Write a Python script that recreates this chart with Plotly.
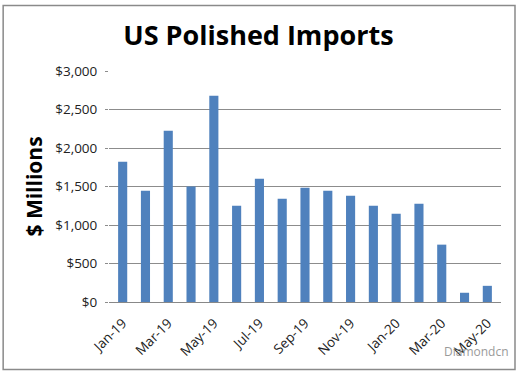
import plotly.graph_objects as go

months = ["Jan-19", "Feb-19", "Mar-19", "Apr-19", "May-19", "Jun-19", "Jul-19", "Aug-19",
          "Sep-19", "Oct-19", "Nov-19", "Dec-19", "Jan-20", "Feb-20", "Mar-20", "Apr-20", "May-20"]
imports = [1820, 1445, 2225, 1500, 2680, 1250, 1600, 1340,
           1485, 1445, 1380, 1250, 1145, 1275, 745, 120, 210]
tick_labels = months[::2]
y_ticks = [0, 500, 1000, 1500, 2000, 2500, 3000]
y_tick_text = ["$0", "$500", "$1,000", "$1,500", "$2,000", "$2,500", "$3,000"]

fig = go.Figure()
fig.add_trace(go.Bar(x=months, y=imports, marker=dict(color="#4F81BD", line=dict(width=0)),
                     width=0.4))

font_main = "Open Sans, Liberation Sans, sans-serif"
fig.update_layout(
    width=520, height=375,
    margin=dict(l=109, r=19, t=71, b=73),
    paper_bgcolor="white", plot_bgcolor="white",
    showlegend=False,
    title=dict(text="<b>US Polished Imports</b>", x=0.497, xanchor="center",
               y=0.905, yanchor="middle",
               font=dict(family=font_main, size=27, color="black")),
    font=dict(family=font_main, color="#222"),
    xaxis=dict(type="category", tickmode="array", tickvals=tick_labels, ticktext=tick_labels,
               tickangle=-45, tickfont=dict(size=13.5, color="#222"), showgrid=False,
               showline=True, linecolor="#888", linewidth=1, ticks="", range=[-0.6, 16.6],
               automargin=False, ticklabelstandoff=7),
    yaxis=dict(range=[0, 3000], tickvals=y_ticks, ticktext=y_tick_text,
               tickfont=dict(size=13.5, color="#222"), showgrid=True, gridcolor="#8c8c8c",
               gridwidth=1, zeroline=False, showline=False, ticks="outside", ticklen=3,
               tickcolor="#8c8c8c", automargin=False, ticklabelstandoff=5,
               title=dict(text="<b>$ Millions</b>", font=dict(size=21, color="black"),
                          standoff=6)),
    shapes=[dict(type="rect", xref="paper", yref="paper",
                 x0=-0.270, x1=1.0357, y0=-0.292, y1=1.284,
                 line=dict(color="#8a8a8a", width=1.5), fillcolor="rgba(0,0,0,0)")],
    annotations=[dict(text="Diamondcn", xref="paper", yref="paper", x=0.85, y=-0.216,
                      xanchor="left", yanchor="middle", showarrow=False,
                      font=dict(size=12, color="#9a9a9a"))],
)

fig.write_html("out.html", config={"displayModeBar": False},
               post_script="document.body.style.margin='0';")
